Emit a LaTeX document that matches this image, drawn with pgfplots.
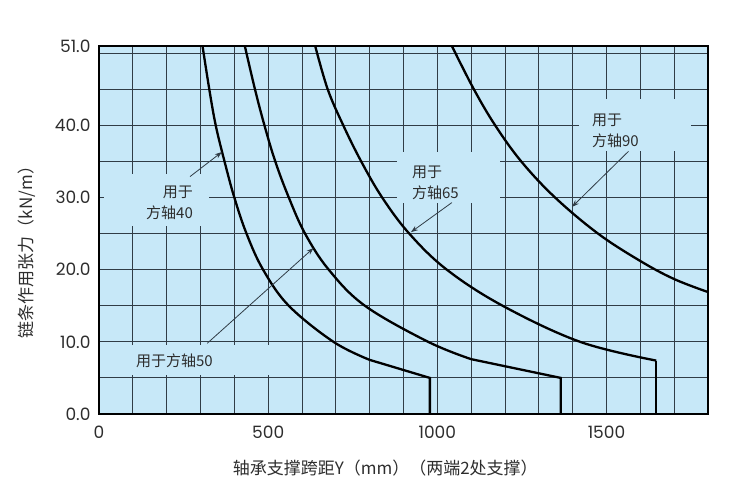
\documentclass[border=0pt]{standalone}
\usepackage{fontspec}
\usepackage{pgfplots}
\pgfplotsset{compat=1.18}
\usetikzlibrary{arrows.meta}
\setmainfont{Poppins}
\newfontfamily\cjk{Noto Sans CJK SC}
\definecolor{bgblue}{RGB}{199,232,248}
\definecolor{gridc}{RGB}{48,60,70}
\definecolor{txt}{RGB}{45,45,45}

\begin{document}
\begin{tikzpicture}
\begin{axis}[
    at={(99pt,83pt)}, anchor=south west,
    width=609pt, height=368pt, scale only axis,
    xmin=0, xmax=1800, ymin=0, ymax=51,
    axis background/.style={fill=bgblue},
    axis line style={line width=1.7pt, black},
    xtick={0,500,1000,1500},
    minor xtick={100,200,...,1700},
    ytick={0,10,20,30,40,51},
    minor ytick={5,15,25,35,45,50},
    major tick length=0pt, minor tick length=0pt,
    grid=both,
    major grid style={gridc, line width=0.95pt},
    minor grid style={gridc, line width=0.95pt},
    /pgf/number format/assume math mode=true,
    yticklabel={\pgfmathprintnumber[fixed,fixed zerofill,precision=1]{\tick}},
    xticklabel={\pgfmathprintnumber[fixed,1000 sep={}]{\tick}},
    tick label style={font=\fontsize{17}{17}\selectfont, text=txt},
    yticklabel style={xshift=-5pt},
    xticklabel style={yshift=-8pt},
    xlabel={\cjk 轴承支撑跨距Y（mm）（两端2处支撑）},
    ylabel={\cjk 链条作用张力（kN/m）},
    label style={font=\fontsize{17}{17}\selectfont, text=txt},
    xlabel style={at={(axis description cs:0.47,0)}, anchor=center, yshift=-54pt},
    ylabel style={at={(axis description cs:-0.118,0.451)}, anchor=center},
    clip=false,
]
% label backgrounds hide the grid
\fill[bgblue] (axis cs:15,26) rectangle (axis cs:325,33.2);
\fill[bgblue] (axis cs:60,5.4) rectangle (axis cs:530,9.6);
\fill[bgblue] (axis cs:880,29.3) rectangle (axis cs:1185,36.3);
\fill[bgblue] (axis cs:1420,36.5) rectangle (axis cs:1750,43.7);

% 方轴40
\addplot[black, line width=2.3pt, smooth, tension=0.6] coordinates {
(306,51) (326,45) (345,40) (371,35) (400,30) (436,25) (485,20)
(561,15) (693,10) (800,7.5)};
\addplot[black, line width=2.3pt] coordinates {(800,7.5) (978,5) (978,0)};
% 方轴50
\addplot[black, line width=2.3pt, smooth, tension=0.6] coordinates {
(431,51) (461,45) (489,40) (521,35) (561,30) (609,25) (679,20)
(786,15) (973,10) (1100,7.6)};
\addplot[black, line width=2.3pt] coordinates {(1100,7.6) (1365,5) (1365,0)};
% 方轴65
\addplot[black, line width=2.3pt, smooth, tension=0.6] coordinates {
(639,51) (676,45) (722,40) (775,35) (837,30) (917,25) (1028,20)
(1193,15) (1422,10) (1647,7.4)};
\addplot[black, line width=2.3pt] coordinates {(1647,7.4) (1647,0)};
% 方轴90
\addplot[black, line width=2.3pt, smooth, tension=0.6] coordinates {
(1043,51) (1108,45) (1171,40) (1248,35) (1348,30) (1475,25)
(1600,21.2) (1700,18.7) (1800,16.9)};

% callouts
\draw[gridc, line width=0.8pt, -{Stealth[length=7pt,width=5pt]}] (axis cs:269,32.9) -- (axis cs:363,36.3);
\draw[gridc, line width=0.8pt, -{Stealth[length=7pt,width=5pt]}] (axis cs:320,9.8) -- (axis cs:634,23.0);
\draw[gridc, line width=0.8pt, -{Stealth[length=7pt,width=5pt]}] (axis cs:1043,29.3) -- (axis cs:922,25.2);
\draw[gridc, line width=0.8pt, -{Stealth[length=7pt,width=5pt]}] (axis cs:1565,36.4) -- (axis cs:1398,28.7);

\node[anchor=east, align=right, font=\cjk\fontsize{15}{21}\selectfont, text=txt, inner sep=0pt]
  at (axis cs:278,29.3) {用于\\方轴40};
\node[anchor=west, font=\cjk\fontsize{15}{21}\selectfont, text=txt, inner sep=0pt]
  at (axis cs:109,7.4) {用于方轴50};
\node[anchor=west, align=left, font=\cjk\fontsize{15}{21}\selectfont, text=txt, inner sep=0pt]
  at (axis cs:925,32.1) {用于\\方轴65};
\node[anchor=west, align=left, font=\cjk\fontsize{15}{21}\selectfont, text=txt, inner sep=0pt]
  at (axis cs:1457,39.3) {用于\\方轴90};
\end{axis}
\pgfresetboundingbox
\path (0,0) rectangle (733pt,497pt);
\end{tikzpicture}
\end{document}
